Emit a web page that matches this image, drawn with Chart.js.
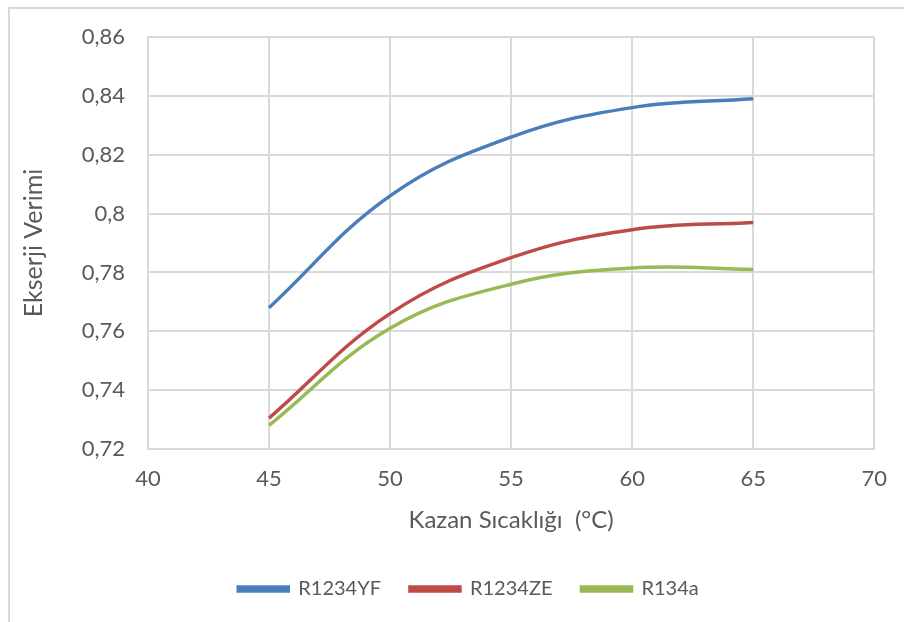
<!DOCTYPE html>
<html>
<head>
<meta charset="utf-8">
<script src="https://cdn.jsdelivr.net/npm/chart.js@4/dist/chart.umd.min.js"></script>
<style>
  body { margin: 0; background: #fff; overflow: hidden; }
  #frame { position: absolute; left: 8px; top: 7px; width: 1000px; height: 700px; border: 2px solid #d9d9d9; }
  #wrap { position: absolute; left: 0; top: 0; width: 904px; height: 622px; }
</style>
</head>
<body>
<div id="frame"></div>
<div id="wrap"><canvas id="myChart" width="904" height="622"></canvas></div>
<script>
const temps = [45, 50, 55, 60, 65];
const r1234yf = [0.768, 0.806, 0.826, 0.836, 0.839];
const r1234ze = [0.7305, 0.766, 0.785, 0.7945, 0.797];
const r134a = [0.728, 0.761, 0.776, 0.7815, 0.781];
const seriesNames = ["R1234YF", "R1234ZE", "R134a"];
const seriesColors = ["#4a7ebb", "#be4b48", "#98b954"];

const textColor = "#595959";
const fontFamily = "Lato, 'Open Sans', sans-serif";

function makeSet(i, values) {
    return {
        label: seriesNames[i],
        data: temps.map((t, k) => ({ x: t, y: values[k] })),
        borderColor: seriesColors[i],
        backgroundColor: seriesColors[i],
        borderWidth: 3.5,
        pointRadius: 0,
        tension: 0.4,
        fill: false,
    };
}

// nudge the legend so it sits where excel put it
const legendShift = {
    id: "legendShift",
    afterLayout(chart) {
        const lg = chart.legend;
        lg.left += 27;
        lg.right += 27;
        lg.top -= 8;
        lg.bottom -= 8;
    },
};

const ctx = document.getElementById("myChart");

new Chart(ctx, {
    type: "line",
    data: {
        datasets: [
            makeSet(0, r1234yf),
            makeSet(1, r1234ze),
            makeSet(2, r134a),
        ],
    },
    plugins: [legendShift],
    options: {
        responsive: false,
        animation: false,
        layout: { padding: { left: 8, top: 37, right: 29, bottom: 5 } },
        plugins: {
            tooltip: { enabled: false },
            legend: {
                position: "bottom",
                labels: {
                    color: textColor,
                    font: { family: fontFamily, size: 20 },
                    boxWidth: 50,
                    boxHeight: 4,
                    padding: 29,
                },
            },
        },
        scales: {
            x: {
                type: "linear",
                min: 40,
                max: 70,
                afterFit: (scale) => { scale.height = 109; },
                ticks: {
                    stepSize: 5,
                    color: textColor,
                    font: { family: fontFamily, size: 22 },
                    padding: 17,
                    maxRotation: 0,
                },
                grid: { color: "#d9d9d9", lineWidth: 2, drawTicks: false },
                border: { color: "#d9d9d9", width: 2 },
                title: {
                    display: true,
                    text: "Kazan Sıcaklığı  (°C)",
                    color: textColor,
                    font: { family: fontFamily, size: 24 },
                    padding: { top: 10, bottom: 23 },
                },
            },
            y: {
                min: 0.72,
                max: 0.86,
                afterFit: (scale) => { scale.width = 140; },
                ticks: {
                    stepSize: 0.02,
                    color: textColor,
                    font: { family: fontFamily, size: 22 },
                    padding: 23,
                    callback: (v) => String(Math.round(v * 100) / 100).replace(".", ","),
                },
                grid: { color: "#d9d9d9", lineWidth: 2, drawTicks: false },
                border: { color: "#d9d9d9", width: 2 },
                title: {
                    display: true,
                    text: "Ekserji Verimi",
                    color: textColor,
                    font: { family: fontFamily, size: 25 },
                    padding: { top: 11, bottom: 0 },
                },
            },
        },
    },
});
</script>
</body>
</html>
